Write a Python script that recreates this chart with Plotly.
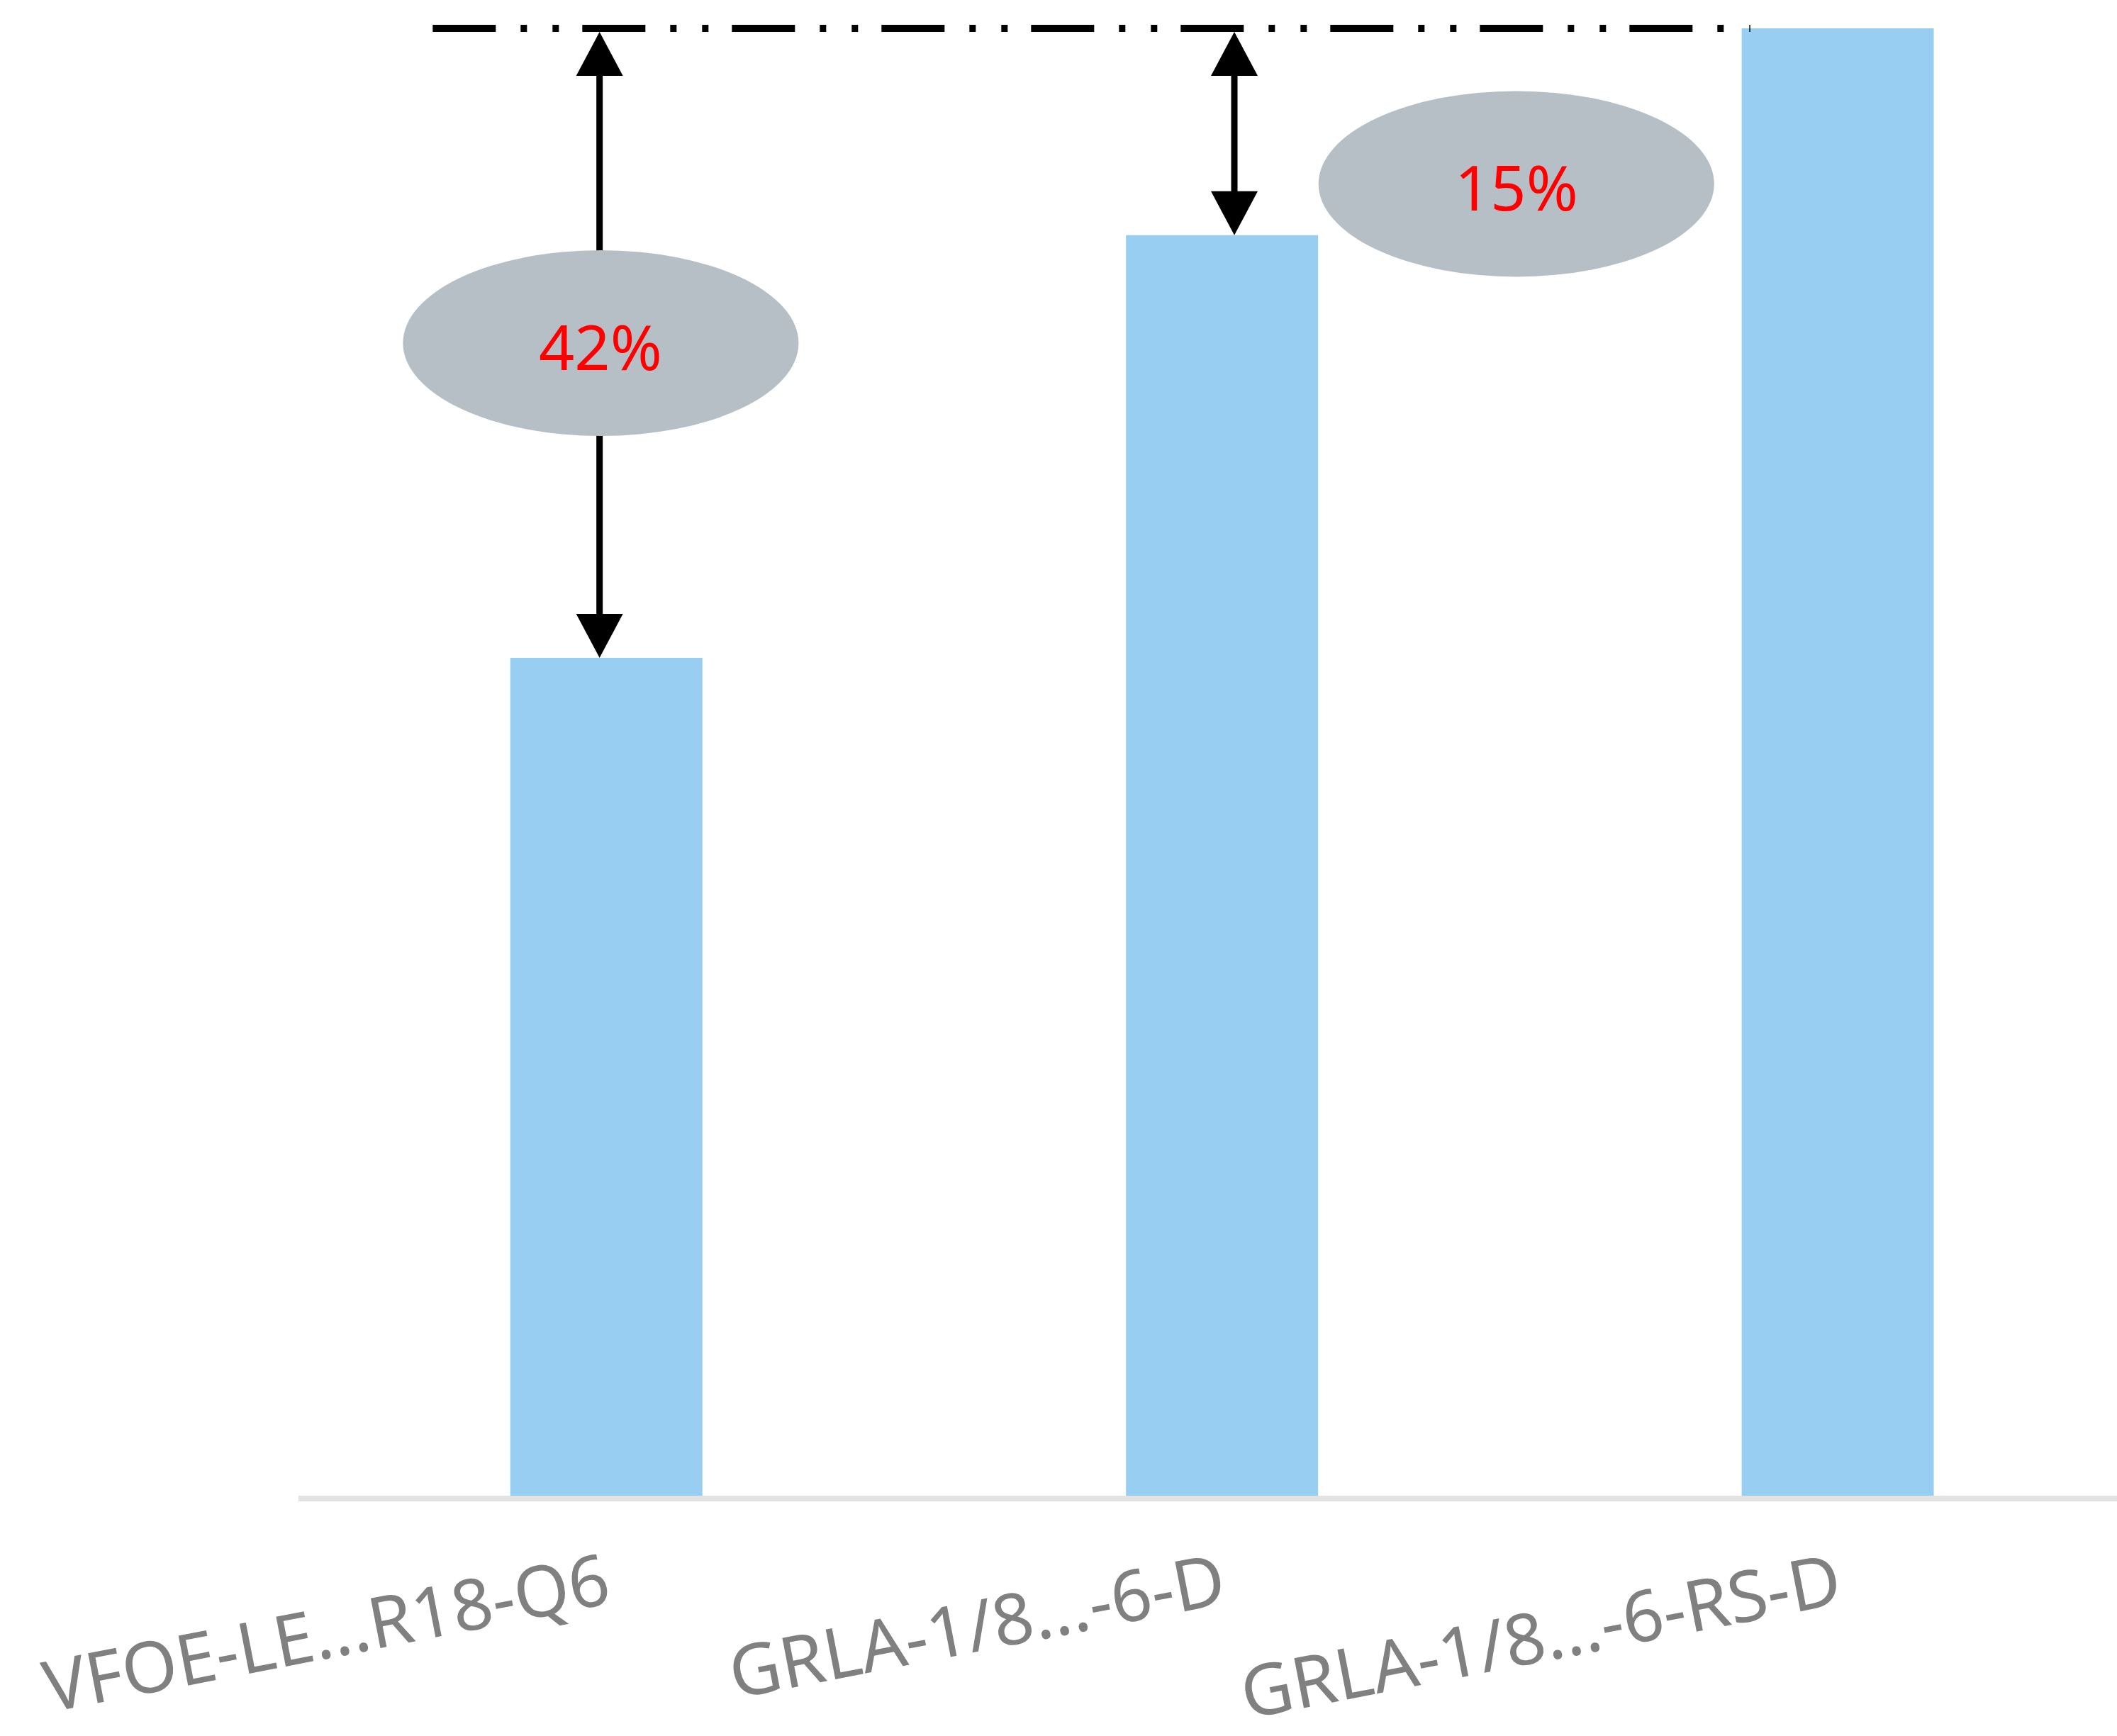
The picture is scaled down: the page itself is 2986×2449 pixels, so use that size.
import plotly.graph_objects as go

# ---- data ----
categories = ["VFOE-LE...R18-Q6", "GRLA-1/8...-6-D", "GRLA-1/8...-6-RS-D"]
values = [57.1, 85.9, 100.0]
diff_labels = ["42%", "15%"]      # labels of the two arrows (bar 0 and bar 1 vs. bar 2)
ref_value = 100.0                 # reference level (dash-dot line)

# ---- layout constants ----
W, H = 2986, 2449
ML, MR, MT, MB = 421, 0, 0, 339
PLOT_H = H - MT - MB
Y_MAX = 101.93
X_RANGE = [-0.5, 2.4536]
PX_PER_Y = PLOT_H / Y_MAX

BAR_COLOR = "#97CEF2"
ELLIPSE_COLOR = "#B6BFC6"
ARROW_X = [-0.011, 1.02]
ELLIPSE_POS = [(-0.009, None), (1.478, 89.4)]   # None -> midpoint of arrow
ELL_RX, ELL_RY = 279, 131
HEAD_W, HEAD_L = 66, 62
SHAFT_W = 9

fig = go.Figure()
fig.add_trace(go.Bar(
    x=categories, y=values, width=0.312,
    marker=dict(color=BAR_COLOR, line=dict(width=0)),
    hoverinfo="skip",
))

shapes = []
annotations = []

# dash-dot reference line
shapes.append(dict(
    type="line", xref="x", yref="y", x0=-0.282, x1=1.858, y0=ref_value, y1=ref_value,
    line=dict(color="black", width=10, dash="89px,35px,9px,36px,9px,33px"),
    layer="above",
))

head_dy = HEAD_L / PX_PER_Y
for i, lab in enumerate(diff_labels):
    xa = ARROW_X[i]
    v = values[i]
    # shaft
    shapes.append(dict(
        type="line", xref="x", yref="y", x0=xa, x1=xa,
        y0=v + head_dy * 0.9, y1=ref_value - head_dy,
        line=dict(color="black", width=SHAFT_W), layer="above",
    ))
    # bottom head (tip at bar top)
    shapes.append(dict(
        type="path", xref="x", yref="y", xsizemode="pixel", ysizemode="pixel",
        xanchor=xa, yanchor=v,
        path=f"M{-HEAD_W/2},{HEAD_L} L{HEAD_W/2},{HEAD_L} L0,0 Z",
        fillcolor="black", line=dict(width=0), layer="above",
    ))
    # top head (tip at reference line)
    shapes.append(dict(
        type="path", xref="x", yref="y", xsizemode="pixel", ysizemode="pixel",
        xanchor=xa, yanchor=ref_value,
        path=f"M{-HEAD_W/2},{-HEAD_L-5} L{HEAD_W/2},{-HEAD_L-5} L0,-5 Z",
        fillcolor="black", line=dict(width=0), layer="above",
    ))

for i, lab in enumerate(diff_labels):
    ex, ey = ELLIPSE_POS[i]
    if ey is None:
        ey = (values[i] + ref_value) / 2
    shapes.append(dict(
        type="circle", xref="x", yref="y", xsizemode="pixel", ysizemode="pixel",
        xanchor=ex, yanchor=ey, x0=-ELL_RX, x1=ELL_RX, y0=-ELL_RY, y1=ELL_RY,
        fillcolor=ELLIPSE_COLOR, line=dict(width=0), layer="above",
    ))
    annotations.append(dict(
        x=ex, y=ey, xref="x", yref="y", text=lab, showarrow=False,
        font=dict(family="Noto Sans", size=88, color="#FF0000"),
        yshift=-4,
    ))

fig.update_layout(
    template="none",
    width=W, height=H,
    margin=dict(l=ML, r=MR, t=MT, b=MB, pad=0),
    paper_bgcolor="white", plot_bgcolor="white",
    showlegend=False,
    shapes=shapes, annotations=annotations,
    xaxis=dict(
        range=X_RANGE, showgrid=False, zeroline=False,
        showline=True, linecolor="#E2E2E2", linewidth=8,
        ticks="", tickangle=-11, automargin=False,
        ticklabelstandoff=24,
        tickfont=dict(family="Noto Sans", size=100, color="#808080"),
    ),
    yaxis=dict(
        range=[0, Y_MAX], visible=False, showgrid=False, zeroline=False,
        automargin=False,
    ),
)

fig.write_html(
    "out.html",
    config={"displayModeBar": False},
    post_script="document.body.style.margin='0';document.body.style.overflow='hidden';",
)
